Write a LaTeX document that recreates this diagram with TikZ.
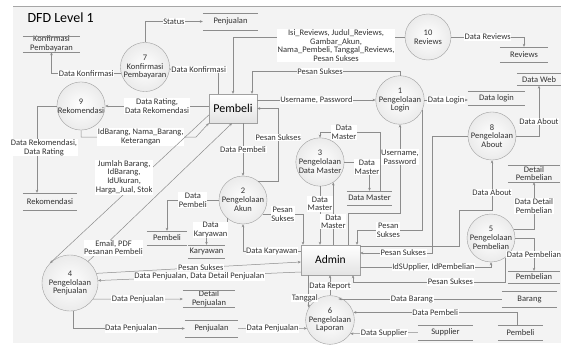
\documentclass[tikz,border=0pt]{standalone}
\usepackage{fontspec}
\setmainfont{Carlito}
\usepackage{tikz}
\usetikzlibrary{arrows,arrows.meta}
\usetikzlibrary{calc,shadows}
\definecolor{garis}{RGB}{140,140,140}
\definecolor{latar}{RGB}{243,243,243}
\definecolor{tepi}{RGB}{160,160,160}
\newcommand{\ketfont}{\fontsize{8.5}{8.8}\selectfont}

\begin{document}
\begin{tikzpicture}[x=1pt, y=-1pt,
	proses/.style={circle, draw=tepi, inner color=white, outer color=gray!16, minimum size=46pt, inner sep=0pt, align=center, font=\ketfont, text=black!80},
	entitas/.style={rectangle, draw=tepi, top color=white, bottom color=gray!22, minimum width=48pt, minimum height=29pt, font=\fontsize{12}{12}\selectfont, drop shadow={opacity=0.2, shadow xshift=1pt, shadow yshift=-1pt}},
	simpan/.style={minimum height=15pt, inner sep=0pt, align=center, font=\ketfont, text=black!80, append after command={(\tikzlastnode.north west) edge[garis, line width=0.5pt] (\tikzlastnode.north east) (\tikzlastnode.south west) edge[garis, line width=0.5pt] (\tikzlastnode.south east)}},
	alir/.style={draw=garis, line width=0.5pt, -{Stealth[length=3pt,width=2.6pt]}},
	ket/.style={fill=white, inner sep=0.6pt, align=center, font=\ketfont, text=black!80},
]
	\useasboundingbox (0,0) rectangle (561,345);
	\fill[latar] (13,7) rectangle (561,343);
	\draw[gray!70] (13,6.5) -- (561,6.5);

	\node[anchor=west, font=\fontsize{14}{14}\selectfont] (judul) at (24,18) {DFD Level 1};

	% entitas luar
	\node[entitas] (pembeli) at (233,108.5) {Pembeli};
	\node[entitas, minimum width=59pt, minimum height=30pt, font=\fontsize{11.5}{11.5}\selectfont] (admin) at (330.5,260) {Admin};

	% proses
	\node[proses, minimum size=44pt] (p7) at (145,67) {7\\Konfirmasi\\Pembayaran};
	\node[proses] (p10) at (428,37) {10\\Reviews};
	\node[proses, minimum size=48pt] (p1) at (400,100) {1\\Pengelolaan\\Login};
	\node[proses] (p9) at (81,106) {9\\Rekomendasi};
	\node[proses, minimum size=48pt] (p8) at (492,136) {8\\Pengelolaan\\About};
	\node[proses, minimum size=48pt] (p3) at (320,162) {3\\Pengelolaan\\Data Master};
	\node[proses, minimum size=48pt] (p2) at (243,200) {2\\Pengelolaan\\Akun};
	\node[proses, minimum size=48pt] (p5) at (491,238) {5\\Pengelolaan\\Pembelian};
	\node[proses, minimum size=56pt] (p4) at (70,283) {4\\Pengelolaan\\Penjualan};
	\node[proses] (p6) at (330,320) {6\\Pengelolaan\\Laporan};

	% data store
	\node[simpan, minimum width=57pt, minimum height=16pt] (sKonf) at (51.5,44) {Konfirmasi\\Pembayaran};
	\node[simpan, minimum width=55pt, minimum height=17pt] (sJualA) at (230.5,21.5) {Penjualan};
	\node[simpan, minimum width=48pt] (sRev) at (524,54.5) {Reviews};
	\node[simpan, minimum width=44pt, minimum height=12pt] (sWeb) at (539,79.5) {Data Web};
	\node[simpan, minimum width=57pt, minimum height=14pt] (sLogin) at (496.5,98) {Data login};
	\node[simpan, minimum width=54pt, minimum height=17pt] (sRekom) at (50,201.5) {Rekomendasi};
	\node[simpan, minimum width=40pt, minimum height=14pt] (sPembeliL) at (167,238) {Pembeli};
	\node[simpan, minimum width=37pt, minimum height=13pt] (sKaryawan) at (206.5,251.5) {Karyawan};
	\node[simpan, minimum width=45pt, minimum height=14pt] (sMaster) at (369.5,198) {Data Master};
	\node[simpan, minimum width=52pt, minimum height=17pt] (sDetBeli) at (534,173.5) {Detail\\Pembelian};
	\node[simpan, minimum width=52pt, minimum height=12pt] (sBeli) at (534,277) {Pembelian};
	\node[simpan, minimum width=55pt, minimum height=16pt] (sBarang) at (529.5,299) {Barang};
	\node[simpan, minimum width=55pt] (sSupplier) at (445.5,332.5) {Supplier};
	\node[simpan, minimum width=45pt] (sPembeliR) at (520.5,332.5) {Pembeli};
	\node[simpan, minimum width=52pt, minimum height=16pt] (sDetJual) at (209,299) {Detail\\Penjualan};
	\node[simpan, minimum width=53pt, minimum height=17pt] (sPenjBot) at (211.5,328.5) {Penjualan};

	% 7 konfirmasi
	\draw[alir] (p7.north) |- node[ket,pos=0.75]{Status} (sJualA.west);
	\draw[alir] (p7.195) -| node[ket,pos=0.25]{Data Konfirmasi} (sKonf.south);
	\draw[alir] ([xshift=-15pt]pembeli.north) |- node[ket,pos=0.7]{Data Konfirmasi} (p7.-5);

	% 10 reviews
	\draw[alir] (p10.west) -| node[ket,pos=0.2,yshift=-8.5pt]{Isi\_Reviews, Judul\_Reviews,\\Gambar\_Akun,\\Nama\_Pembeli, Tanggal\_Reviews,\\Pesan Sukses} (pembeli.north);
	\draw[alir] (p10.east) -| node[ket,pos=0.25]{Data Reviews} (sRev.north);

	% 1 login
	\draw[alir] (p1.north) -- ++(0,-4) -| node[ket,pos=0.27]{Pesan Sukses} ([xshift=19pt]pembeli.north);
	\draw[alir] (pembeli.east |- p1.west) -- node[ket]{Username, Password} (p1.west);
	\draw[alir] (p1.east) -- node[ket]{Data Login} (p1.east -| sLogin.west);
	\draw[alir] (admin.north -| 348,0) |- (p1.south |- 0,213) -- node[ket,pos=0.63]{Username,\\Password} (p1.south);
	\draw[alir] (p1.-24) |- node[ket,pos=0.76]{Pesan\\Sukses} (357,230) -- (admin.north -| 357,0);

	% 9 rekomendasi
	\draw[alir] (pembeli.west |- p9.east) -- node[ket]{Data Rating,\\Data Rekomendasi} (p9.east);
	\draw[alir] (p9.west) -| node[ket,pos=0.74,xshift=7pt]{Data Rekomendasi,\\Data Rating} ([xshift=-13pt]sRekom.north);
	\draw[alir] (p9.south) |- node[ket,pos=0.76]{IdBarang, Nama\_Barang,\\Keterangan} (196,137) -- (pembeli.south west);

	% pembeli - 4
	\draw[alir] (pembeli.-165) -- node[ket,pos=0.42,xshift=-18pt]{Jumlah Barang,\\IdBarang,\\IdUkuran,\\Harga\_Jual, Stok} (p4.135);
	\draw[alir] (p4.50) -- node[ket,pos=0.1,xshift=11pt]{Email, PDF\\Pesanan Pembeli} (pembeli.south -| 232,0);

	% 2 akun
	\draw[alir] (pembeli.south -| p2.north) -- node[ket]{Data Pembeli} (p2.north);
	\draw[alir] (p2.52) -| node[ket,pos=0.8]{Pesan Sukses} ([xshift=21pt]pembeli.east) -- (pembeli.east);
	\draw[alir] (p2.west) -| node[ket,pos=0.25]{Data\\Pembeli} (sPembeliL.north);
	\draw[alir] (p2.-132) -- ++(0,12) -| node[ket,pos=0.4]{Data\\Karyawan} (sKaryawan.north);
	\draw[alir] ([yshift=9pt]admin.west) -| node[ket,pos=0.25]{Data Karyawan} (p2.south);
	\draw[alir] (p2.-36) -| node[ket,pos=0.25]{Pesan\\Sukses} ([xshift=-27.5pt]admin.north);

	% 3 data master
	\draw[alir] (p3.south) -- node[ket,pos=0.3]{Data\\Master} (admin.north -| p3.south);
	\draw[alir] (admin.north -| p3.-57) -- node[ket,pos=0.37]{Data\\Master} (p3.-57);
	\draw[alir] (p3.east) -| node[ket,pos=0.45,yshift=-5pt]{Data\\Master} (sMaster.north);
	\draw[alir] ([xshift=10.5pt]sMaster.north) |- node[ket,pos=0.8]{Data\\Master} ([yshift=5pt]p3.north) -- (p3.north);

	% 8 about
	\draw[alir] (p8.west) -- (432,136) |- node[ket,pos=0.7]{Pesan Sukses} (admin.east |- 0,253);
	\draw[alir] (admin.east |- 0,246) -| (459,210) -| node[ket,pos=0.68]{Data About} (p8.south);
	\draw[alir] (p8.east) -| node[ket,pos=0.64]{Data About} (sWeb.south);

	% 5 pembelian
	\draw[alir] (admin.east |- 0,267) -| node[ket,pos=0.28]{IdSUpplier, IdPembelian} (p5.south);
	\draw[alir] (p5.-54) |- node[ket,pos=0.68]{Pesan Sukses} (353,282) -- (admin.south -| 353,0);
	\draw[alir] (p5.east) -| node[ket,pos=0.75]{Data Pembelian} (sBeli.north);
	\draw[alir] (p5.20) -| node[ket,pos=0.75]{Data Detail\\Pembelian} (sDetBeli.south);

	% 6 laporan
	\draw[alir] (admin.south -| p6.150) -- node[ket,pos=0.7,xshift=-4pt]{Tanggal} (p6.150);
	\draw[alir] (p6.north) -- node[ket,pos=0.45]{Data Report} (admin.south -| p6.north);
	\draw[alir] (sBarang.west) -- node[ket,pos=0.55]{Data Barang} (sBarang.west -| p6.70);
	\draw[alir] ([xshift=-3.5pt]sPembeliR.north) |- node[ket,pos=0.75]{Data Pembeli} (p6.18);
	\draw[alir] (sSupplier.west) -- node[ket]{Data Supplier} (p6.-34);
	\draw[alir] (sPenjBot.east) -- node[ket]{Data Penjualan} (p6.-160);

	% 4 penjualan
	\draw[alir] (p4.20) -- node[ket,pos=0.51]{Pesan Sukses} (admin.west |- 0,262);
	\draw[alir] (admin.west |- 0,272) -- node[ket]{Data Penjualan, Data Detail Penjualan} (p4.5);
	\draw[alir] (p4.-35) -- node[ket]{Data Penjualan} (sDetJual.west);
	\draw[alir] ([xshift=3pt]p4.south) |- node[ket,pos=0.76]{Data Penjualan} (sPenjBot.west);

\end{tikzpicture}
\end{document}
